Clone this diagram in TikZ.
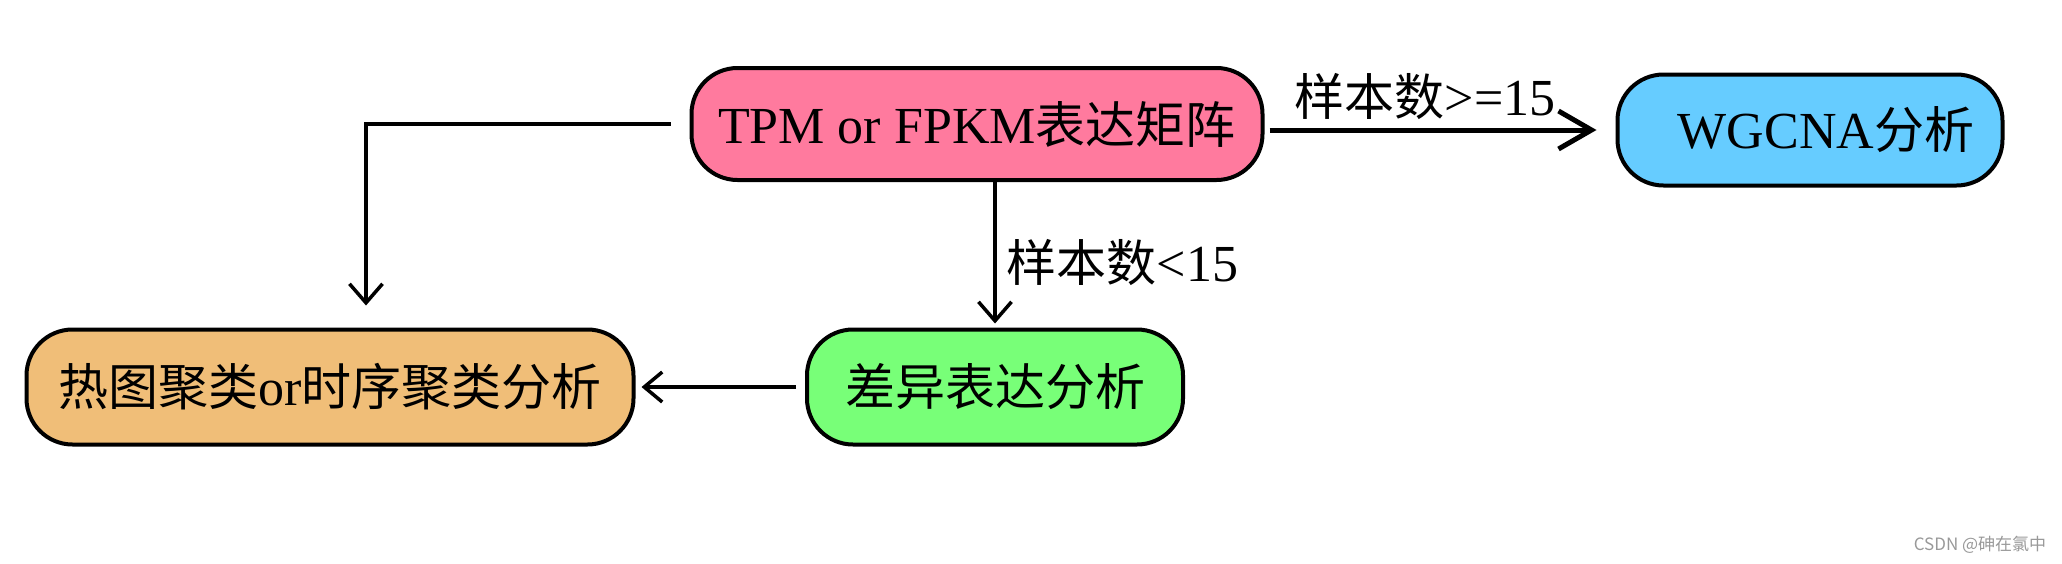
\documentclass[tikz,border=0pt]{standalone}
\usepackage{fontspec}
\setmainfont{Liberation Serif}
\newfontfamily\cjk{Noto Sans CJK SC}
\usetikzlibrary{arrows.meta}
\newcommand{\zh}[1]{{\cjk\fontsize{50}{60}\selectfont #1}}
\definecolor{tpmpink}{RGB}{255,122,158}
\definecolor{wgcnablue}{RGB}{102,204,255}
\definecolor{heatorange}{RGB}{240,190,120}
\definecolor{deggreen}{RGB}{120,255,120}

\begin{document}
\begin{tikzpicture}[x=1pt, y=-1pt,
    box/.style={draw, line width=4pt, rounded corners=46pt, inner sep=0pt, font=\fontsize{52}{60}\selectfont},
    arr/.style={line width=3.5pt, -{Straight Barb[length=19pt, width=33pt, line width=3.5pt]}},
    lbl/.style={font=\fontsize{52}{60}\selectfont, inner sep=0pt}]
    \useasboundingbox (0, 0) rectangle (2062, 563);
    \node[box, fill=tpmpink, minimum width=571pt, minimum height=112pt] (tpm) at (977, 124) {TPM or FPKM\zh{表达矩阵}};
    \node[box, fill=wgcnablue, minimum width=385pt, minimum height=111pt] (wgcna) at (1810, 130) {\hspace*{32pt}WGCNA\zh{分析}};
    \node[box, fill=heatorange, minimum width=607pt, minimum height=115pt] (heat) at (330, 387) {\zh{热图聚类}or\zh{时序聚类分析}};
    \node[box, fill=deggreen, minimum width=376pt, minimum height=115pt] (deg) at (995, 387) {\zh{差异表达分析}};
    \draw[arr, line width=5pt, -{Straight Barb[length=33pt, width=38pt, line width=5pt]}, shorten <=5pt, shorten >=19pt] (tpm.east |- wgcna.west) -- (wgcna.west) node[lbl, midway, above=8pt, xshift=-15pt] {\zh{样本数}>=15};
    \draw[arr, shorten >=4pt] (tpm.south -| deg.north) -- (deg.north) node[lbl, midway, right=10pt, yshift=-8pt] {\zh{样本数}<15};
    \draw[arr, shorten <=19pt, shorten >=22pt] (tpm.west) -| ([xshift=36pt]heat.north);
    \draw[arr, -{Straight Barb[length=18pt, width=30pt, line width=3.5pt]}, shorten <=9pt, shorten >=6pt] (deg.west) -- (heat.east);
    \node[font=\cjk\fontsize{17}{20}\selectfont, text=gray!80, inner sep=0pt] (mark) at (1980, 545) {CSDN @砷在氯中};
\end{tikzpicture}
\end{document}
